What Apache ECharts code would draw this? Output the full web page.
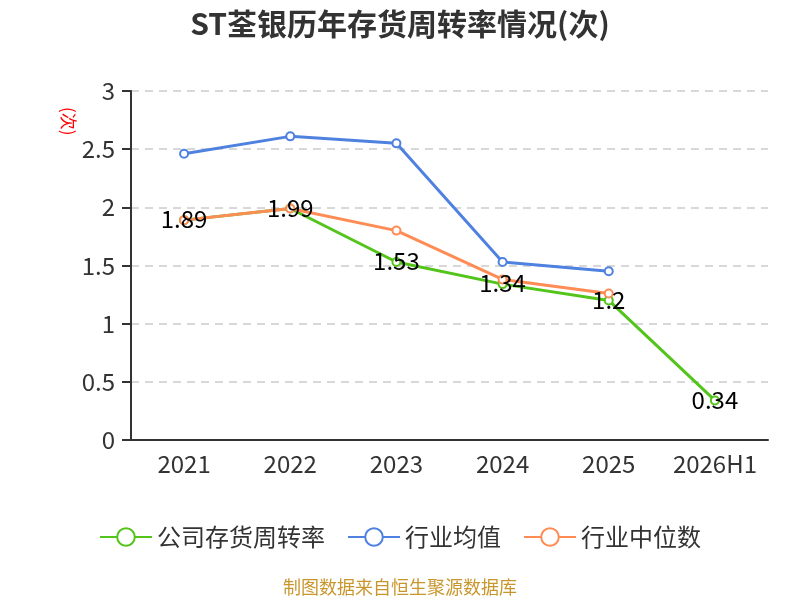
<!DOCTYPE html>
<html>
<head>
<meta charset="utf-8">
<script src="https://cdn.jsdelivr.net/npm/echarts@6/dist/echarts.min.js"></script>
<style>
html, body { margin: 0; padding: 0; background: #fff; }
#main { width: 800px; height: 600px; }
</style>
</head>
<body>
<div id="main"></div>
<script>
let chart = echarts.init(document.getElementById("main"));

// 数据
const years = ["2021", "2022", "2023", "2024", "2025", "2026H1"];
const companyRate = [1.89, 1.99, 1.53, 1.34, 1.2, 0.34];
const industryAvg = [2.46, 2.61, 2.55, 1.53, 1.45, null];
const industryMedian = [1.89, 1.99, 1.8, 1.38, 1.26, null];

const font = "'Noto Sans CJK SC', 'Noto Sans', sans-serif";

function lineSeries(name, data, color, withLabel) {
    return {
        name: name,
        type: 'line',
        data: data,
        symbol: 'emptyCircle',
        symbolSize: 8,
        lineStyle: { width: 3, color: color },
        itemStyle: { color: color, borderWidth: 2 },
        label: {
            show: withLabel,
            position: 'inside',
            offset: [0, -1],
            color: '#000',
            fontSize: 24,
            fontFamily: font
        }
    };
}

let option = {
    backgroundColor: '#fff',
    title: {
        text: 'ST荃银历年存货周转率情况(次)',
        left: 'center',
        top: 4,
        textStyle: { fontSize: 30, fontWeight: 'bold', color: '#333', fontFamily: font }
    },
    legend: {
        bottom: 46,
        itemWidth: 52,
        itemHeight: 22,
        itemGap: 22,
        textStyle: { fontSize: 24, color: '#333', fontFamily: font },
        data: ['公司存货周转率', '行业均值', '行业中位数']
    },
    grid: { left: 131, right: 32, top: 91, bottom: 160 },
    xAxis: {
        type: 'category',
        data: years,
        axisLine: { lineStyle: { color: '#333', width: 2 } },
        axisTick: { length: 8, interval: 0, lineStyle: { color: '#333', width: 2 } },
        axisLabel: { fontSize: 24, color: '#333', margin: 12, interval: 0, fontFamily: font }
    },
    yAxis: {
        type: 'value',
        min: 0,
        max: 3,
        interval: 0.5,
        axisLine: { show: true, lineStyle: { color: '#333', width: 2 } },
        axisTick: { show: true, length: 9, lineStyle: { color: '#333', width: 2 } },
        axisLabel: { fontSize: 24, color: '#333', margin: 16, fontFamily: font },
        splitLine: { lineStyle: { color: '#ccc', type: [8, 6], width: 1.5 } }
    },
    graphic: [{
        type: 'text',
        left: 60,
        top: 107,
        rotation: -Math.PI / 2,
        style: { text: '(次)', fill: '#ff0000', fontSize: 17, fontFamily: font }
    }, {
        type: 'text',
        left: 'center',
        top: 578,
        style: { text: '制图数据来自恒生聚源数据库', fill: '#c9962e', fontSize: 18, fontFamily: font }
    }],
    series: [
        lineSeries('公司存货周转率', companyRate, '#52c41a', true),
        lineSeries('行业均值', industryAvg, '#4f81e0', false),
        lineSeries('行业中位数', industryMedian, '#ff8c55', false)
    ]
};

chart.setOption(option);
</script>
</body>
</html>
